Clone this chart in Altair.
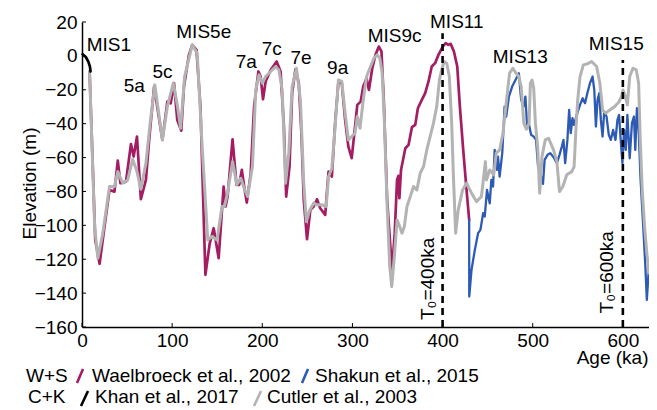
import altair as alt
import pandas as pd

FONT = "Liberation Sans"

# Khan et al., 2017 (black)
khan_age = [0.7, 4.4, 7.0, 8.8, 9.5]
khan_elev = [1.0, -0.8, -3.4, -6.3, -9.2]

# Waelbroeck et al., 2002 (magenta)
wael_age = [8.4, 14.7, 19.5, 25.0, 30.5, 36.0, 39.7, 42.6, 48.8, 54.3, 57.3, 61.0, 65.3, 70.9, 74.5,
            80.0, 89.2, 94.7, 98.4, 102.1, 105.7, 110.1, 113.1, 118.6, 122.3, 127.0, 131.4, 136.9,
            141.7, 146.1, 151.6, 157.1, 159.3, 161.5, 167.0, 171.4, 174.4, 177.3, 179.9, 182.8,
            187.2, 190.9, 195.7, 198.2, 200.8, 203.7, 209.3, 215.9, 220.3, 224.0, 226.5, 230.2,
            233.1, 236.8, 240.5, 243.4, 246.0, 249.6, 253.3, 257.0, 260.7, 264.3, 269.8, 273.5,
            277.2, 280.8, 284.5, 288.2, 291.9, 295.5, 299.2, 302.9, 305.4, 309.1, 312.0, 315.7,
            318.3, 322.0, 325.6, 329.3, 332.2, 334.8, 338.5, 342.1, 344.0, 346.9, 349.5, 351.0,
            352.1, 353.9, 358.7, 362.3, 366.0, 369.7, 372.6, 377.0, 380.7, 384.4, 388.0, 391.7,
            395.4, 400.2, 403.5, 406.4, 409.0, 412.6, 416.3, 419.2, 422.9, 426.6, 429.5]
wael_elev = [-9.2, -108.6, -122.7, -100.7, -79.1, -80.1, -61.8, -75.1, -74.2, -52.0, -59.4, -47.6,
             -84.6, -73.2, -49.6, -18.1, -49.6, -27.0, -28.0, -16.1, -37.8, -44.1, -18.1, 0.6, 6.5,
             3.5, -29.9, -129.2, -110.6, -101.7, -119.4, -77.1, -88.9, -83.0, -49.2, -76.1, -76.1,
             -67.3, -77.1, -86.6, -69.2, -29.9, -9.2, -12.2, -25.6, -15.1, -8.3, -3.3, -9.2, -41.7,
             -83.0, -65.3, -22.0, -7.9, -16.1, -45.6, -85.0, -108.2, -90.9, -88.9, -84.6, -89.9,
             -93.8, -68.3, -71.2, -39.7, -15.1, -16.1, -37.8, -53.5, -60.4, -41.7, -28.9, -27.0,
             -18.1, -13.2, -20.1, -7.3, 0.6, 5.5, 2.6, -26.0, -85.0, -112.5, -126.3, -104.6, -73.2,
             -70.8, -84.0, -67.3, -54.5, -52.5, -42.1, -40.7, -30.9, -26.0, -22.0, -15.1, -6.3,
             -4.3, 0.6, 5.5, 7.5, 6.5, 7.1, 2.6, -6.3, -29.9, -55.5, -79.1, -96.8]

# Shakun et al., 2015 (blue)
shak_age = [429.5, 429.6, 432.1, 435.8, 439.4, 442.0, 445.0, 446.8, 449.3, 452.3, 454.1, 456.0,
            457.8, 460.4, 461.5, 463.3, 466.2, 468.8, 470.6, 473.6, 477.2, 480.9, 484.6, 487.2,
            490.1, 491.9, 493.8, 495.6, 498.2, 501.1, 503.7, 505.9, 508.4, 511.4, 513.2, 516.5,
            519.5, 523.1, 526.8, 529.7, 532.3, 534.1, 536.0, 538.5, 540.4, 542.2, 544.1, 545.9,
            548.8, 552.5, 555.4, 558.0, 560.6, 563.5, 566.4, 568.3, 570.1, 571.9, 573.8, 575.6,
            577.5, 579.3, 581.9, 584.4, 586.6, 589.2, 591.8, 594.0, 595.8, 597.6, 599.5, 601.3,
            603.2, 605.0, 607.6, 610.1, 612.3, 613.8, 615.6, 617.5, 619.7, 622.2, 624.8, 626.6,
            628.5, 630.7]
shak_elev = [-96.8, -142.0, -126.3, -114.5, -104.6, -102.7, -92.8, -94.8, -79.1, -87.0, -73.2, -77.1,
             -55.5, -67.3, -59.4, -71.2, -57.4, -29.9, -35.8, -24.0, -18.1, -14.2, -10.2, -26.0,
             -29.9, -24.0, -41.7, -39.7, -46.6, -47.6, -49.6, -65.3, -69.2, -75.5, -61.4, -58.4,
             -57.4, -59.8, -63.3, -58.4, -53.5, -49.6, -63.3, -49.6, -31.9, -45.6, -36.8, -40.7,
             -34.8, -28.9, -25.0, -27.9, -22.0, -16.1, -12.2, -20.1, -41.7, -26.0, -22.0, -37.8,
             -47.6, -32.9, -35.8, -46.6, -49.6, -43.7, -49.6, -37.8, -34.8, -49.6, -63.3, -43.7,
             -55.5, -34.8, -60.4, -39.7, -35.8, -55.5, -30.9, -43.7, -73.2, -96.8, -122.4, -144.0,
             -128.2, -118.4]

# Cutler et al., 2003 (grey)
cut_age = [8.4, 14.0, 17.6, 23.1, 30.5, 36.0, 39.7, 45.2, 50.7, 56.2, 61.0, 65.3, 70.9, 75.6, 80.8,
           89.2, 94.7, 101.3, 105.7, 109.4, 113.8, 122.3, 127.8, 133.3, 139.5, 144.3, 149.8, 155.3,
           157.9, 161.5, 167.0, 171.8, 176.2, 179.9, 183.6, 189.1, 192.7, 196.4, 200.1, 203.7,
           209.3, 214.8, 218.4, 222.1, 225.8, 229.4, 233.1, 237.9, 242.3, 246.0, 248.9, 252.6,
           257.0, 260.7, 266.2, 270.9, 273.5, 277.2, 280.8, 284.5, 288.2, 291.9, 295.5, 299.2,
           302.9, 305.4, 308.4, 312.0, 315.7, 320.1, 323.8, 327.5, 330.4, 333.0, 335.5, 338.5,
           341.4, 343.6, 346.5, 349.5, 352.4, 355.0, 357.6, 360.5, 364.2, 367.8, 371.5, 375.2,
           378.9, 382.5, 386.2, 389.9, 393.5, 396.5, 399.0, 401.6, 404.6, 407.5, 410.1, 411.9,
           414.5, 417.4, 422.2, 426.6, 432.1, 437.6, 443.1, 447.5, 448.6, 452.3, 456.7, 459.6,
           463.3, 467.0, 470.6, 474.3, 478.0, 480.9, 484.6, 487.2, 490.1, 493.0, 496.0, 497.4,
           499.3, 501.1, 503.0, 505.5, 507.7, 510.3, 513.9, 517.6, 523.1, 526.8, 529.7, 533.4,
           537.8, 543.3, 545.9, 548.1, 549.9, 552.5, 556.2, 560.6, 565.3, 570.9, 574.5, 577.5,
           581.1, 585.5, 591.0, 595.8, 598.4, 600.2, 602.8, 605.0, 607.6, 611.2, 614.9, 617.5,
           619.3, 621.5, 624.1, 626.6, 628.9, 631.4]
cut_elev = [-9.2, -100.7, -119.4, -104.6, -77.1, -77.1, -68.3, -75.1, -73.2, -61.0, -68.3, -78.7,
            -63.3, -39.7, -17.1, -49.6, -29.9, -16.1, -28.9, -42.7, -12.2, 6.5, 1.6, -53.5, -108.6,
            -106.6, -108.6, -88.9, -88.9, -81.0, -62.4, -76.1, -72.2, -78.1, -83.0, -65.3, -20.1,
            -11.2, -16.1, -12.2, -9.2, -6.3, -8.3, -20.1, -75.1, -57.4, -18.1, -7.3, -26.0, -75.1,
            -97.8, -90.9, -86.9, -87.9, -87.9, -88.9, -71.2, -66.3, -41.7, -14.2, -15.1, -33.8,
            -49.6, -47.6, -45.6, -35.8, -42.7, -26.0, -12.2, -6.3, -1.4, 0.6, -1.4, -10.2, -39.7,
            -88.9, -124.3, -136.1, -118.4, -96.8, -100.7, -104.6, -100.7, -88.9, -83.0, -77.1,
            -79.1, -69.2, -65.3, -55.5, -47.6, -39.7, -29.9, -14.2, -8.3, -3.3, -4.3, -12.2, -39.7,
            -69.2, -104.6, -90.9, -79.1, -75.1, -81.0, -86.0, -83.0, -62.4, -73.2, -67.3, -70.2,
            -57.4, -55.5, -45.6, -27.9, -10.2, -7.3, -9.8, -12.2, -18.1, -39.7, -43.3, -39.7,
            -16.1, -14.2, -19.1, -39.7, -53.5, -81.0, -59.4, -49.6, -48.6, -55.5, -62.4, -80.1,
            -77.1, -70.2, -68.3, -65.3, -41.7, -26.0, -12.2, -5.3, -4.7, -3.3, -6.3, -16.1, -31.9,
            -33.8, -31.9, -29.9, -27.0, -24.0, -20.1, -24.0, -28.9, -12.2, -7.3, -8.3, -16.1,
            -49.6, -79.1, -100.7, -116.5, -128.2, -118.4]

# annotations
ann_labels = ["MIS1", "5a", "5c", "MIS5e", "7a", "7c", "7e", "9a", "MIS9c", "MIS11", "MIS13", "MIS15"]
ann_age = [5.2, 46.2, 78.2, 104.6, 170.6, 199.3, 231.2, 271.9, 317.0, 386.1, 455.7, 562.2]
ann_elev = [2.9, -21.1, -13.1, 10.6, -7.2, 0.5, -4.8, -10.7, 8.0, 16.3, -4.4, 3.5]

t0_labels = ["T\u2080=400ka", "T\u2080=600ka"]
t0_age = [390.8, 588.9]
t0_elev = [-155.9, -152.0]

dash_age = [400, 600]
dash_bottom = [-160, -160]
dash_top = [13.4, -2.4]

x_ticks = [0, 100, 200, 300, 400, 500, 600]
y_ticks = [20, 0, -20, -40, -60, -80, -100, -120, -140, -160]

MAGENTA = "#A41C61"
BLUE = "#2C5AB4"
GREY = "#B3B3B3"

W, H = 567, 305

xax = alt.Axis(values=x_ticks, ticks=False, tickSize=0, labelPadding=4, labelFlush=False,
               labelFont=FONT, labelFontSize=19, labelColor="black", grid=False,
               domainColor="black", domainWidth=1.5, title="Age (ka)", titleFont=FONT,
               titleFontSize=19, titleFontWeight="normal", titleColor="black",
               titleX=566, titleY=36, titleAlign="right", titleBaseline="alphabetic")
yax = alt.Axis(values=y_ticks, ticks=False, tickSize=0, labelPadding=5, labelFont=FONT,
               labelFontSize=19, labelColor="black", grid=False, domainColor="black",
               domainWidth=1.5, title="Elevation (m)", titleFont=FONT, titleFontSize=19,
               titleFontWeight="normal", titleColor="black", titleAngle=270, titleX=-47,
               titleY=161, titleAlign="center", titleBaseline="alphabetic")

xs = alt.Scale(domain=[0, 629], nice=False, zero=False)
ys = alt.Scale(domain=[-160, 20], nice=False, zero=False)
X = alt.X("age:Q", scale=xs, axis=xax)
Y = alt.Y("elev:Q", scale=ys, axis=yax)


def series(ages, elevs, color, width):
    df = pd.DataFrame({"age": ages, "elev": elevs})
    return alt.Chart(df).mark_line(color=color, strokeWidth=width, strokeJoin="round",
                                   strokeCap="round").encode(x=X, y=Y)


wael = series(wael_age, wael_elev, MAGENTA, 2.7)
shak = series(shak_age, shak_elev, BLUE, 2.3)
cut = series(cut_age, cut_elev, GREY, 3.0)
khan = series(khan_age, khan_elev, "black", 2.7)

dash = alt.Chart(pd.DataFrame({"age": dash_age, "elev": dash_bottom, "top": dash_top})).mark_rule(
    color="black", strokeWidth=2.6, strokeDash=[7, 5]).encode(x=X, y=Y, y2="top:Q")

ann = alt.Chart(pd.DataFrame({"age": ann_age, "elev": ann_elev, "label": ann_labels})).mark_text(
    align="left", baseline="alphabetic", font=FONT, fontSize=19, color="black").encode(
    x=X, y=Y, text="label:N")

t0 = alt.Chart(pd.DataFrame({"age": t0_age, "elev": t0_elev, "label": t0_labels})).mark_text(
    align="left", baseline="alphabetic", font=FONT, fontSize=19, color="black", angle=270).encode(
    x=X, y=Y, text="label:N")

yt = alt.Chart(pd.DataFrame({"elev": y_ticks})).mark_rule(color="black", strokeWidth=1).encode(
    x=alt.value(0), x2=alt.value(4), y=Y)
xt = alt.Chart(pd.DataFrame({"age": x_ticks})).mark_rule(color="black", strokeWidth=1).encode(
    x=X, y=alt.value(H), y2=alt.value(H - 4))

one = pd.DataFrame({"a": [0]})


def slash(color, x1, x2, y1, y2):
    return alt.Chart(one).mark_rule(color=color, strokeWidth=2.6).encode(
        x=alt.value(x1), x2=alt.value(x2), y=alt.value(y1), y2=alt.value(y2))


def label(text, x, y):
    return alt.Chart(one).mark_text(text=text, align="left", baseline="alphabetic", font=FONT,
                                    fontSize=19, color="black").encode(x=alt.value(x), y=alt.value(y))


legend = [
    label("W+S", -56, 360), slash(MAGENTA, -5, 1, 361, 347), label("Waelbroeck et al., 2002", 10, 360),
    slash(BLUE, 220, 226, 361, 347), label("Shakun et al., 2015", 233, 360),
    label("C+K", -54, 381), slash("black", -1, 6, 384, 369), label("Khan et al., 2017", 13, 381),
    slash(GREY, 172, 179, 384, 369), label("Cutler et al., 2003", 185, 381),
]

chart = alt.layer(wael, shak, cut, khan, dash, yt, xt, ann, t0, *legend).properties(
    width=W, height=H,
    autosize=alt.AutoSizeParams(type="none"),
    padding={"left": 74, "top": 14, "right": 0, "bottom": 80},
).configure_view(stroke=None)

chart.save("out.html", embed_options={"renderer": "svg", "actions": False})
